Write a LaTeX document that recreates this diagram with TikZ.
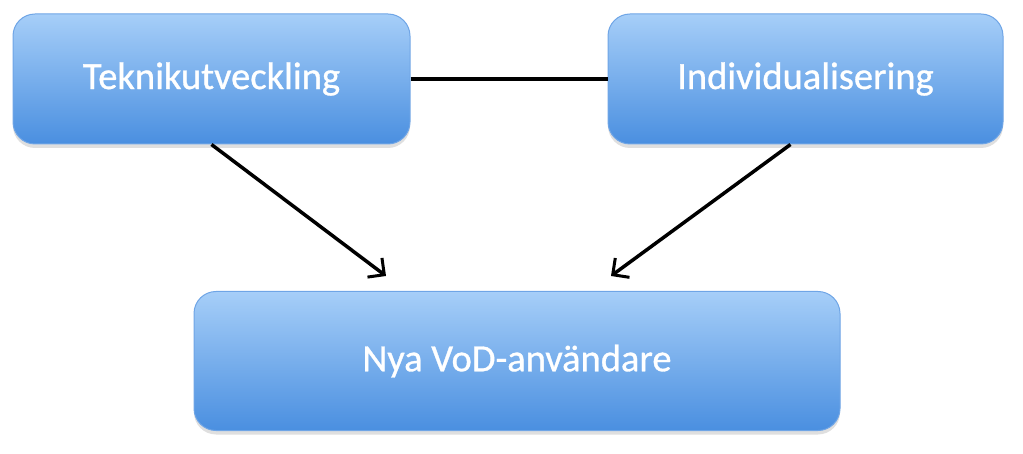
\documentclass[tikz,border=0pt]{standalone}
\usepackage{fontspec}
\setmainfont{Carlito}
\newfontfamily\boxfont[FakeBold=0.8]{Carlito}
\usetikzlibrary{arrows.meta,shadows,shapes.misc}
\definecolor{boxtop}{HTML}{A6CEF8}
\definecolor{boxbot}{HTML}{4A8FE0}
\definecolor{boxedge}{HTML}{6FA5E6}
\tikzset{
  bluebox/.style={draw=boxedge, line width=1pt, rounded corners=22pt,
    top color=boxtop, bottom color=boxbot, text=white,
    font=\boxfont\fontsize{38.5}{46}\selectfont, inner sep=0pt,
    drop shadow={shadow xshift=0pt, shadow yshift=-4pt, opacity=0.25, fill=gray}},
  conn/.style={line width=3.5pt, black},
  arr/.style={conn, -{Straight Barb[length=12pt,width=24pt,line width=3pt]}}
}
\begin{document}
\begin{tikzpicture}[x=1pt,y=-1pt]
\useasboundingbox (0,0) rectangle (1023,454);
\node[bluebox, minimum width=397pt, minimum height=130pt] (tek) at (211.5,79) {Teknikutveckling};
\node[bluebox, minimum width=395pt, minimum height=130pt] (ind) at (805.5,79) {Individualisering};
\node[bluebox, minimum width=646pt, minimum height=139pt] (nya) at (517,361) {Nya VoD-användare};
\coordinate (t1) at (386,276);
\coordinate (t2) at (611,276);
\draw[conn] (tek.east) -- (ind.west);
\draw[arr] (tek.south) -- (t1);
\draw[arr] ([xshift=-15pt]ind.south) -- (t2);
\end{tikzpicture}
\end{document}
